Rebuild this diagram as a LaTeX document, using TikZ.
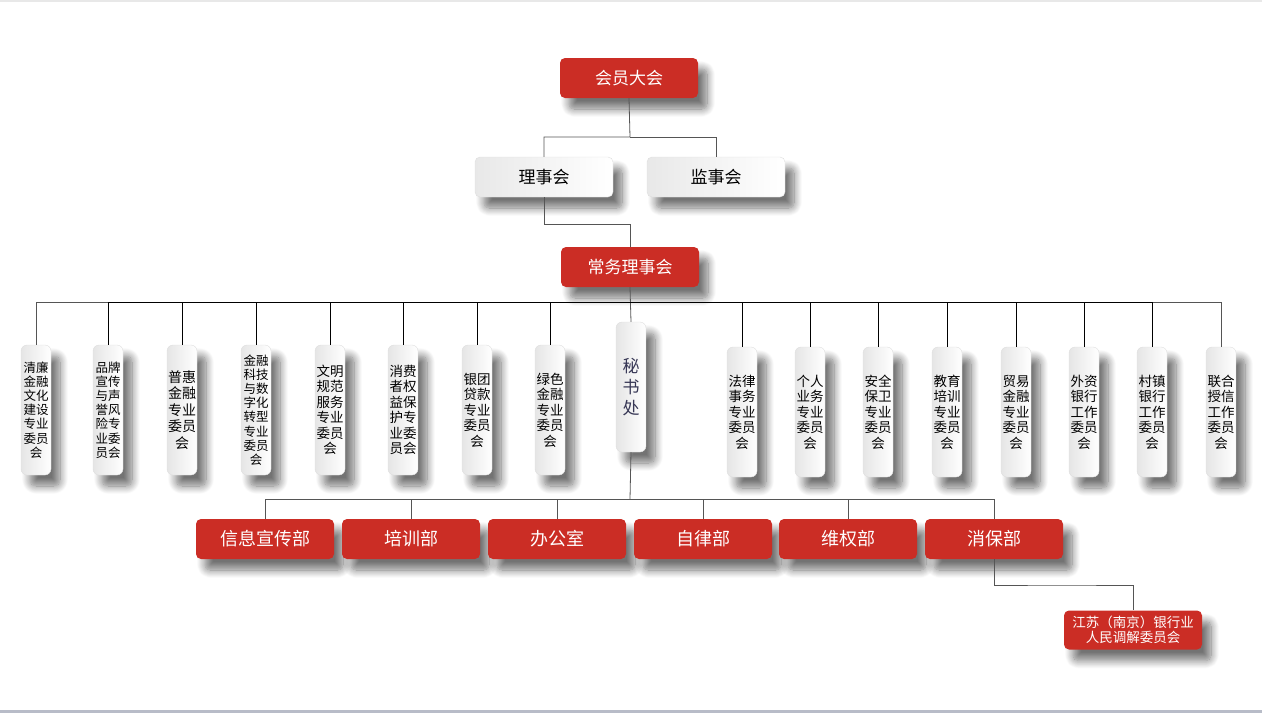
\documentclass[tikz,border=0pt]{standalone}
\usepackage{fontspec}
\newfontfamily\cjk{Noto Sans CJK SC}
\usetikzlibrary{positioning,shadows.blur}
\definecolor{hqred}{RGB}{203,45,37}
\definecolor{linegray}{RGB}{85,85,85}
\definecolor{boxedge}{RGB}{222,222,222}
\definecolor{msctext}{RGB}{55,55,85}
\definecolor{footgray}{RGB}{184,188,200}

\begin{document}
\begin{tikzpicture}[x=1pt,y=-1pt,
  every node/.style={font=\cjk},
  shd/.style={blur shadow={shadow xshift=9pt,shadow yshift=-11pt,shadow blur radius=8pt,shadow blur steps=12,shadow opacity=55}},
  redbox/.style={shd,rounded corners=5pt,fill=hqred,text=white,minimum width=138pt,minimum height=40pt,align=center,font=\cjk\fontsize{17}{20}\selectfont},
  deptbox/.style={redbox,font=\cjk\fontsize{18}{21}\selectfont},
  graybox/.style={shd,rounded corners=5pt,draw=boxedge,left color=gray!18,right color=white,minimum width=138pt,minimum height=40pt,align=center,font=\cjk\fontsize{17}{20}\selectfont},
  vbox/.style={shd,rounded corners=6pt,draw=boxedge,left color=gray!20,right color=white,minimum width=30pt,minimum height=130pt,inner sep=1pt,align=center,font=\cjk\fontsize{13.5}{15.5}\selectfont},
  vdense/.style={vbox,font=\cjk\fontsize{12.5}{14.2}\selectfont},
  link/.style={draw=linegray,line width=0.8pt},
  drop/.style={draw=black,line width=0.8pt}
]
\useasboundingbox (0,0) rectangle (1262,713);
\fill[gray!18] (0,0) rectangle (1262,1.5);
\fill[footgray] (0,709.5) rectangle (1262,713);

\node[redbox] (hy) at (629,78) {会员大会};
\node[graybox] (lsh) at (544,177) {理事会};
\node[graybox] (jsh) at (716,177) {监事会};
\node[redbox] (cw) at (630,267) {常务理事会};

\node[vdense] (c01) at (36,410) {清廉\\金融\\文化\\建设\\专业\\委员\\会};
\node[vdense] (c02) at (108,410) {品牌\\宣传\\与声\\誉风\\险专\\业委\\员会};
\node[vbox,font=\cjk\fontsize{14}{16.5}\selectfont] (c03) at (182,410) {普惠\\金融\\专业\\委员\\会};
\node[vdense] (c04) at (256,410) {金融\\科技\\与数\\字化\\转型\\专业\\委员\\会};
\node[vbox] (c05) at (330,410) {文明\\规范\\服务\\专业\\委员\\会};
\node[vbox] (c06) at (403,410) {消费\\者权\\益保\\护专\\业委\\员会};
\node[vbox] (c07) at (477,410) {银团\\贷款\\专业\\委员\\会};
\node[vbox] (c08) at (550,410) {绿色\\金融\\专业\\委员\\会};
\node[vbox,text=msctext,font=\cjk\fontsize{17}{21}\selectfont] (msc) at (631,387) {秘\\书\\处};
\node[vbox] (c09) at (742,412) {法律\\事务\\专业\\委员\\会};
\node[vbox] (c10) at (810,412) {个人\\业务\\专业\\委员\\会};
\node[vbox] (c11) at (878,412) {安全\\保卫\\专业\\委员\\会};
\node[vbox] (c12) at (947,412) {教育\\培训\\专业\\委员\\会};
\node[vbox] (c13) at (1016,412) {贸易\\金融\\专业\\委员\\会};
\node[vbox] (c14) at (1084,412) {外资\\银行\\工作\\委员\\会};
\node[vbox] (c15) at (1152,412) {村镇\\银行\\工作\\委员\\会};
\node[vbox] (c16) at (1221,412) {联合\\授信\\工作\\委员\\会};

\node[deptbox] (d1) at (265,539) {信息宣传部};
\node[deptbox] (d2) at (411,539) {培训部};
\node[deptbox] (d3) at (557,539) {办公室};
\node[deptbox] (d4) at (703,539) {自律部};
\node[deptbox] (d5) at (848,539) {维权部};
\node[deptbox] (xb) at (994,539) {消保部};
\node[redbox,minimum height=39pt,inner sep=2pt,font=\cjk\fontsize{13.5}{15}\selectfont] (tj) at (1133,630)
  {江苏（南京）银行业\\人民调解委员会};

\coordinate (j1) at (630,137);
\coordinate (j2) at (630,224);
\coordinate (bus) at (630,302);
\coordinate (bus2) at (630,499);
\coordinate (j3) at (1060,585);

\draw[link] (hy.south) -- (j1) -| (lsh.north);
\draw[link] (j1) -| (jsh.north);
\draw[link] (lsh.south) |- (j2) -- (cw.north);
\draw[link] (cw.south) -- (msc.north);
\draw[link] (bus) -| (c01.north);
\draw[link] (bus) -| (c16.north);
\draw[drop] (bus) -| (c02.north);
\draw[drop] (bus) -| (c03.north);
\draw[drop] (bus) -| (c04.north);
\draw[drop] (bus) -| (c05.north);
\draw[drop] (bus) -| (c06.north);
\draw[drop] (bus) -| (c07.north);
\draw[drop] (bus) -| (c08.north);
\draw[drop] (bus) -| (c09.north);
\draw[drop] (bus) -| (c10.north);
\draw[drop] (bus) -| (c11.north);
\draw[drop] (bus) -| (c12.north);
\draw[drop] (bus) -| (c13.north);
\draw[drop] (bus) -| (c14.north);
\draw[drop] (bus) -| (c15.north);
\draw[link] (msc.south) -- (bus2);
\draw[link] (bus2) -| (d1.north);
\draw[link] (bus2) -| (d2.north);
\draw[link] (bus2) -| (d3.north);
\draw[link] (bus2) -| (d4.north);
\draw[link] (bus2) -| (d5.north);
\draw[link] (bus2) -| (xb.north);
\draw[link] (xb.south) |- (j3) -| (tj.north);
\end{tikzpicture}
\end{document}
